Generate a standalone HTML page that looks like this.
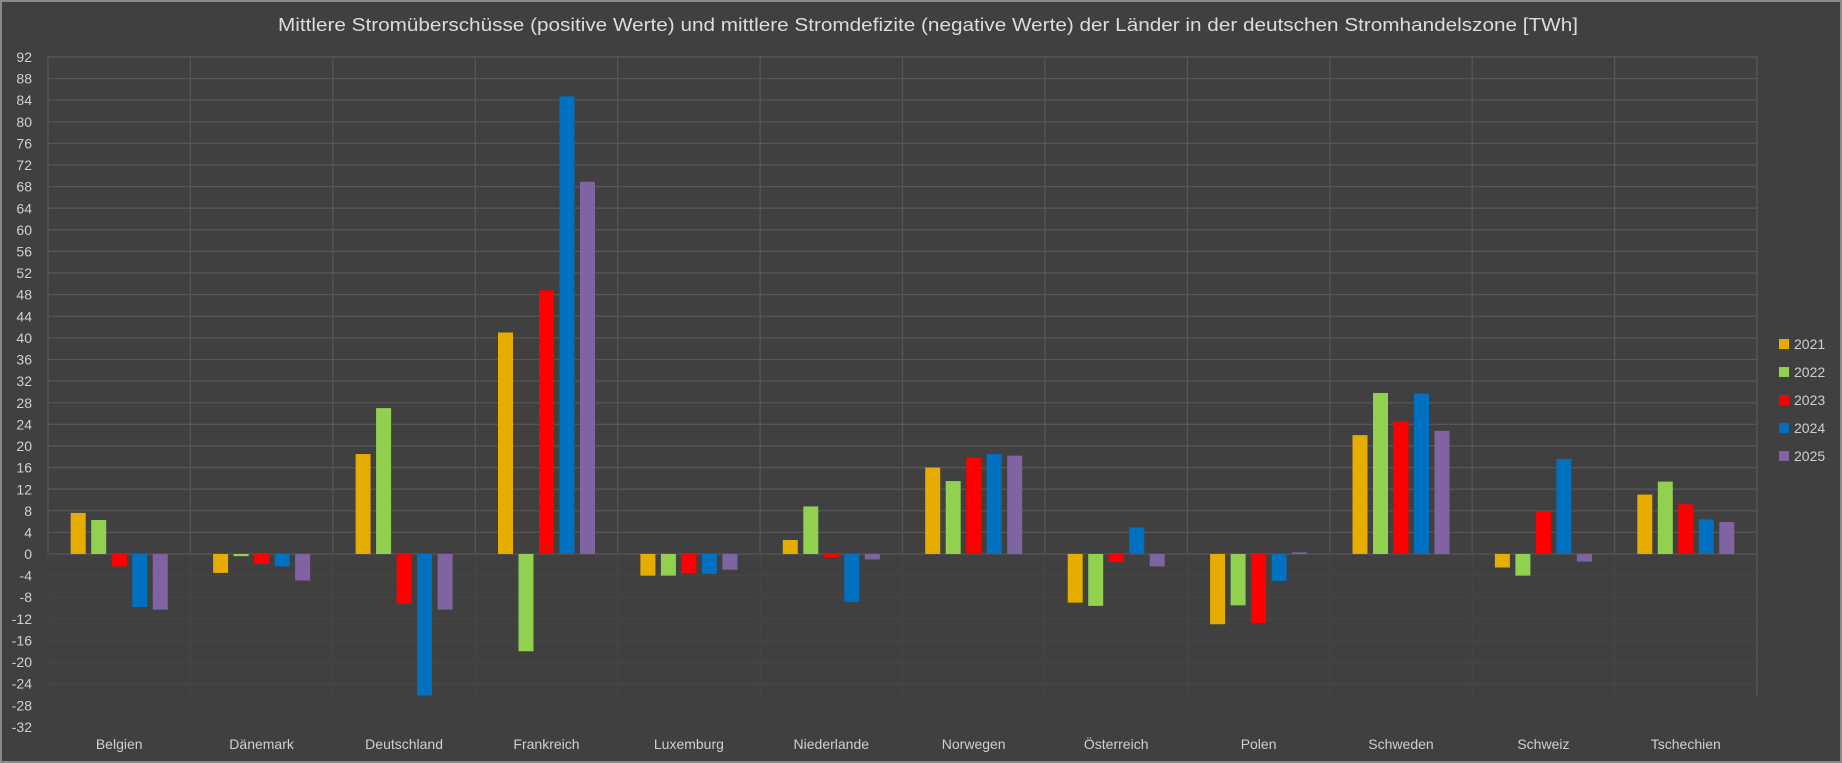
<!DOCTYPE html>
<html><head><meta charset="utf-8"><style>
html,body{margin:0;padding:0;background:#404040;}
svg{display:block;font-family:"Liberation Sans",sans-serif;}
</style></head><body>
<svg width="1842" height="763" viewBox="0 0 1842 763" xmlns="http://www.w3.org/2000/svg">
<rect x="0" y="0" width="1842" height="763" fill="#404040"/>
<rect x="1" y="1" width="1840" height="761" fill="none" stroke="#8a8a8a" stroke-width="2"/>
<text x="928" y="31" text-anchor="middle" font-size="18" fill="#dcdcdc" textLength="1300" lengthAdjust="spacingAndGlyphs">Mittlere Stromüberschüsse (positive Werte) und mittlere Stromdefizite (negative Werte) der Länder in der deutschen Stromhandelszone [TWh]</text>
<g stroke="#565656" stroke-width="1.3">
<g transform="translate(0,554) scale(1,-5.403)">
<line x1="48" x2="1757" y1="92" y2="92" vector-effect="non-scaling-stroke"/><line x1="48" x2="1757" y1="88" y2="88" vector-effect="non-scaling-stroke"/><line x1="48" x2="1757" y1="84" y2="84" vector-effect="non-scaling-stroke"/><line x1="48" x2="1757" y1="80" y2="80" vector-effect="non-scaling-stroke"/><line x1="48" x2="1757" y1="76" y2="76" vector-effect="non-scaling-stroke"/><line x1="48" x2="1757" y1="72" y2="72" vector-effect="non-scaling-stroke"/><line x1="48" x2="1757" y1="68" y2="68" vector-effect="non-scaling-stroke"/><line x1="48" x2="1757" y1="64" y2="64" vector-effect="non-scaling-stroke"/><line x1="48" x2="1757" y1="60" y2="60" vector-effect="non-scaling-stroke"/><line x1="48" x2="1757" y1="56" y2="56" vector-effect="non-scaling-stroke"/><line x1="48" x2="1757" y1="52" y2="52" vector-effect="non-scaling-stroke"/><line x1="48" x2="1757" y1="48" y2="48" vector-effect="non-scaling-stroke"/><line x1="48" x2="1757" y1="44" y2="44" vector-effect="non-scaling-stroke"/><line x1="48" x2="1757" y1="40" y2="40" vector-effect="non-scaling-stroke"/><line x1="48" x2="1757" y1="36" y2="36" vector-effect="non-scaling-stroke"/><line x1="48" x2="1757" y1="32" y2="32" vector-effect="non-scaling-stroke"/><line x1="48" x2="1757" y1="28" y2="28" vector-effect="non-scaling-stroke"/><line x1="48" x2="1757" y1="24" y2="24" vector-effect="non-scaling-stroke"/><line x1="48" x2="1757" y1="20" y2="20" vector-effect="non-scaling-stroke"/><line x1="48" x2="1757" y1="16" y2="16" vector-effect="non-scaling-stroke"/><line x1="48" x2="1757" y1="12" y2="12" vector-effect="non-scaling-stroke"/><line x1="48" x2="1757" y1="8" y2="8" vector-effect="non-scaling-stroke"/><line x1="48" x2="1757" y1="4" y2="4" vector-effect="non-scaling-stroke"/><line x1="48" x2="1757" y1="0" y2="0" vector-effect="non-scaling-stroke"/>
</g>
<g transform="translate(0,554) scale(1,-5.403)" stroke="#454545">
<line x1="48" x2="1757" y1="-4" y2="-4" vector-effect="non-scaling-stroke"/><line x1="48" x2="1757" y1="-8" y2="-8" vector-effect="non-scaling-stroke"/><line x1="48" x2="1757" y1="-12" y2="-12" vector-effect="non-scaling-stroke"/><line x1="48" x2="1757" y1="-16" y2="-16" vector-effect="non-scaling-stroke"/><line x1="48" x2="1757" y1="-20" y2="-20" vector-effect="non-scaling-stroke"/><line x1="48" x2="1757" y1="-24" y2="-24" vector-effect="non-scaling-stroke"/>
</g>
<g>
<line x1="48" x2="48" y1="57" y2="554"/><line x1="190.4" x2="190.4" y1="57" y2="554"/><line x1="332.8" x2="332.8" y1="57" y2="554"/><line x1="475.3" x2="475.3" y1="57" y2="554"/><line x1="617.7" x2="617.7" y1="57" y2="554"/><line x1="760.1" x2="760.1" y1="57" y2="554"/><line x1="902.5" x2="902.5" y1="57" y2="554"/><line x1="1044.9" x2="1044.9" y1="57" y2="554"/><line x1="1187.4" x2="1187.4" y1="57" y2="554"/><line x1="1329.8" x2="1329.8" y1="57" y2="554"/><line x1="1472.2" x2="1472.2" y1="57" y2="554"/><line x1="1614.6" x2="1614.6" y1="57" y2="554"/><line x1="1757" x2="1757" y1="57" y2="697"/>
</g>
<g stroke="#454545">
<line x1="48" x2="48" y1="554" y2="697"/><line x1="190.4" x2="190.4" y1="554" y2="697"/><line x1="332.8" x2="332.8" y1="554" y2="697"/><line x1="475.3" x2="475.3" y1="554" y2="697"/><line x1="617.7" x2="617.7" y1="554" y2="697"/><line x1="760.1" x2="760.1" y1="554" y2="697"/><line x1="902.5" x2="902.5" y1="554" y2="697"/><line x1="1044.9" x2="1044.9" y1="554" y2="697"/><line x1="1187.4" x2="1187.4" y1="554" y2="697"/><line x1="1329.8" x2="1329.8" y1="554" y2="697"/><line x1="1472.2" x2="1472.2" y1="554" y2="697"/><line x1="1614.6" x2="1614.6" y1="554" y2="697"/>
</g>
</g>
<g font-size="14" fill="#cfcfcf" text-anchor="end">
<text x="32" y="62">92</text><text x="32" y="83.6">88</text><text x="32" y="105.2">84</text><text x="32" y="126.8">80</text><text x="32" y="148.5">76</text><text x="32" y="170.1">72</text><text x="32" y="191.7">68</text><text x="32" y="213.3">64</text><text x="32" y="234.9">60</text><text x="32" y="256.5">56</text><text x="32" y="278.1">52</text><text x="32" y="299.7">48</text><text x="32" y="321.4">44</text><text x="32" y="343">40</text><text x="32" y="364.6">36</text><text x="32" y="386.2">32</text><text x="32" y="407.8">28</text><text x="32" y="429.4">24</text><text x="32" y="451">20</text><text x="32" y="472.6">16</text><text x="32" y="494.3">12</text><text x="32" y="515.9">8</text><text x="32" y="537.5">4</text><text x="32" y="559">0</text><text x="32" y="580.6">-4</text><text x="32" y="602.2">-8</text><text x="32" y="623.9">-12</text><text x="32" y="645.5">-16</text><text x="32" y="667.1">-20</text><text x="32" y="688.7">-24</text><text x="32" y="710.3">-28</text><text x="32" y="731.9">-32</text>
</g>
<g font-size="14" fill="#cfcfcf" text-anchor="middle">
<text x="119.2" y="749">Belgien</text><text x="261.6" y="749">Dänemark</text><text x="404.1" y="749">Deutschland</text><text x="546.5" y="749">Frankreich</text><text x="688.9" y="749">Luxemburg</text><text x="831.3" y="749">Niederlande</text><text x="973.7" y="749">Norwegen</text><text x="1116.2" y="749">Österreich</text><text x="1258.6" y="749">Polen</text><text x="1401" y="749">Schweden</text><text x="1543.4" y="749">Schweiz</text><text x="1685.8" y="749">Tschechien</text>
</g>
<g transform="translate(0,554) scale(1,-5.403)">
<g transform="translate(119.2,0)"><rect x="-48.5" y="0" width="15" height="7.6" fill="#E6AC00"/><rect x="-28" y="0" width="15" height="6.3" fill="#92D050"/><rect x="-7.5" y="-2.3" width="15" height="2.3" fill="#FF0000"/><rect x="13" y="-9.8" width="15" height="9.8" fill="#0070C0"/><rect x="33.5" y="-10.3" width="15" height="10.3" fill="#8064A2"/></g>
<g transform="translate(261.6,0)"><rect x="-48.5" y="-3.5" width="15" height="3.5" fill="#E6AC00"/><rect x="-28" y="-0.4" width="15" height="0.4" fill="#92D050"/><rect x="-7.5" y="-1.8" width="15" height="1.8" fill="#FF0000"/><rect x="13" y="-2.3" width="15" height="2.3" fill="#0070C0"/><rect x="33.5" y="-4.9" width="15" height="4.9" fill="#8064A2"/></g>
<g transform="translate(404.1,0)"><rect x="-48.5" y="0" width="15" height="18.5" fill="#E6AC00"/><rect x="-28" y="0" width="15" height="27" fill="#92D050"/><rect x="-7.5" y="-9.2" width="15" height="9.2" fill="#FF0000"/><rect x="13" y="-26.2" width="15" height="26.2" fill="#0070C0"/><rect x="33.5" y="-10.3" width="15" height="10.3" fill="#8064A2"/></g>
<g transform="translate(546.5,0)"><rect x="-48.5" y="0" width="15" height="41" fill="#E6AC00"/><rect x="-28" y="-18" width="15" height="18" fill="#92D050"/><rect x="-7.5" y="0" width="15" height="48.8" fill="#FF0000"/><rect x="13" y="0" width="15" height="84.7" fill="#0070C0"/><rect x="33.5" y="0" width="15" height="68.9" fill="#8064A2"/></g>
<g transform="translate(688.9,0)"><rect x="-48.5" y="-4" width="15" height="4" fill="#E6AC00"/><rect x="-28" y="-4" width="15" height="4" fill="#92D050"/><rect x="-7.5" y="-3.6" width="15" height="3.6" fill="#FF0000"/><rect x="13" y="-3.7" width="15" height="3.7" fill="#0070C0"/><rect x="33.5" y="-2.9" width="15" height="2.9" fill="#8064A2"/></g>
<g transform="translate(831.3,0)"><rect x="-48.5" y="0" width="15" height="2.6" fill="#E6AC00"/><rect x="-28" y="0" width="15" height="8.8" fill="#92D050"/><rect x="-7.5" y="-0.6" width="15" height="0.6" fill="#FF0000"/><rect x="13" y="-8.9" width="15" height="8.9" fill="#0070C0"/><rect x="33.5" y="-1" width="15" height="1" fill="#8064A2"/></g>
<g transform="translate(973.7,0)"><rect x="-48.5" y="0" width="15" height="16" fill="#E6AC00"/><rect x="-28" y="0" width="15" height="13.5" fill="#92D050"/><rect x="-7.5" y="0" width="15" height="17.8" fill="#FF0000"/><rect x="13" y="0" width="15" height="18.5" fill="#0070C0"/><rect x="33.5" y="0" width="15" height="18.2" fill="#8064A2"/></g>
<g transform="translate(1116.2,0)"><rect x="-48.5" y="-9" width="15" height="9" fill="#E6AC00"/><rect x="-28" y="-9.6" width="15" height="9.6" fill="#92D050"/><rect x="-7.5" y="-1.5" width="15" height="1.5" fill="#FF0000"/><rect x="13" y="0" width="15" height="4.9" fill="#0070C0"/><rect x="33.5" y="-2.3" width="15" height="2.3" fill="#8064A2"/></g>
<g transform="translate(1258.6,0)"><rect x="-48.5" y="-13" width="15" height="13" fill="#E6AC00"/><rect x="-28" y="-9.5" width="15" height="9.5" fill="#92D050"/><rect x="-7.5" y="-12.8" width="15" height="12.8" fill="#FF0000"/><rect x="13" y="-5" width="15" height="5" fill="#0070C0"/><rect x="33.5" y="0" width="15" height="0.3" fill="#8064A2"/></g>
<g transform="translate(1401,0)"><rect x="-48.5" y="0" width="15" height="22" fill="#E6AC00"/><rect x="-28" y="0" width="15" height="29.8" fill="#92D050"/><rect x="-7.5" y="0" width="15" height="24.5" fill="#FF0000"/><rect x="13" y="0" width="15" height="29.7" fill="#0070C0"/><rect x="33.5" y="0" width="15" height="22.8" fill="#8064A2"/></g>
<g transform="translate(1543.4,0)"><rect x="-48.5" y="-2.5" width="15" height="2.5" fill="#E6AC00"/><rect x="-28" y="-4" width="15" height="4" fill="#92D050"/><rect x="-7.5" y="0" width="15" height="7.9" fill="#FF0000"/><rect x="13" y="0" width="15" height="17.6" fill="#0070C0"/><rect x="33.5" y="-1.4" width="15" height="1.4" fill="#8064A2"/></g>
<g transform="translate(1685.8,0)"><rect x="-48.5" y="0" width="15" height="11" fill="#E6AC00"/><rect x="-28" y="0" width="15" height="13.4" fill="#92D050"/><rect x="-7.5" y="0" width="15" height="9.2" fill="#FF0000"/><rect x="13" y="0" width="15" height="6.4" fill="#0070C0"/><rect x="33.5" y="0" width="15" height="5.9" fill="#8064A2"/></g>
</g>
<g font-size="14" fill="#cfcfcf">
<rect x="1779" y="339" width="10" height="10" fill="#E6AC00"/><text x="1794" y="349">2021</text>
<rect x="1779" y="367" width="10" height="10" fill="#92D050"/><text x="1794" y="377">2022</text>
<rect x="1779" y="395" width="10" height="10" fill="#FF0000"/><text x="1794" y="405">2023</text>
<rect x="1779" y="423" width="10" height="10" fill="#0070C0"/><text x="1794" y="433">2024</text>
<rect x="1779" y="451" width="10" height="10" fill="#8064A2"/><text x="1794" y="461">2025</text>
</g>
</svg>
</body></html>
